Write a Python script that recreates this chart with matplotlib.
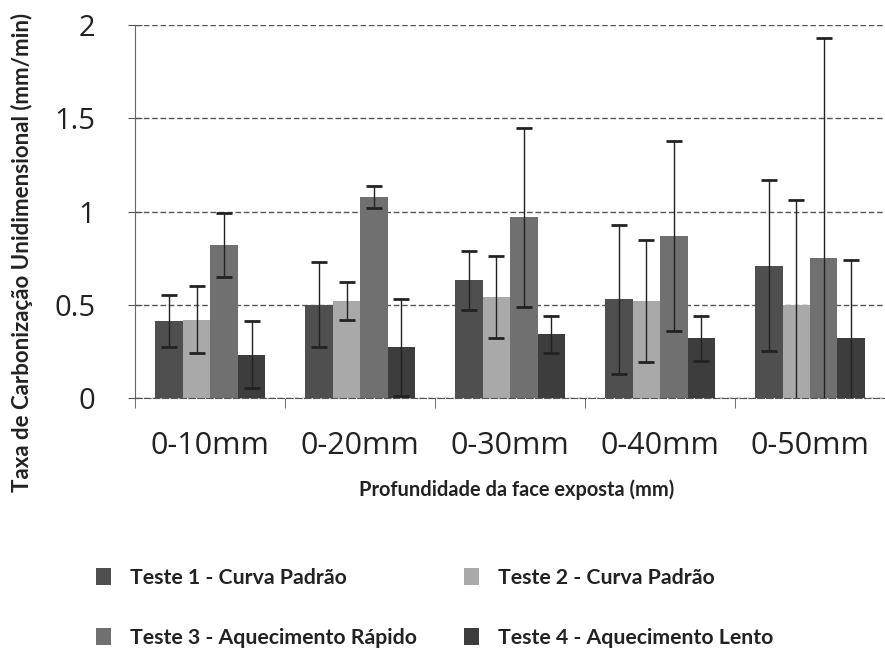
import numpy as np
import matplotlib.pyplot as plt
from matplotlib.ticker import FixedLocator

# values (mm/min)
categories = ['0-10mm', '0-20mm', '0-30mm', '0-40mm', '0-50mm']
series_names = ['Teste 1 - Curva Padrão', 'Teste 2 - Curva Padrão',
                'Teste 3 - Aquecimento Rápido', 'Teste 4 - Aquecimento Lento']
teste1 = [0.41, 0.50, 0.63, 0.53, 0.71]
teste1_err = [0.14, 0.23, 0.16, 0.40, 0.46]
teste2 = [0.42, 0.52, 0.54, 0.52, 0.50]
teste2_err = [0.18, 0.10, 0.22, 0.33, 0.56]
teste3 = [0.82, 1.08, 0.97, 0.87, 0.75]
teste3_err = [0.17, 0.06, 0.48, 0.51, 1.18]
teste4 = [0.23, 0.27, 0.34, 0.32, 0.32]
teste4_err = [0.18, 0.26, 0.10, 0.12, 0.42]

colors = ['#4f4f4f', '#a9a9a9', '#707070', '#3d3d3d']
font = ['Open Sans', 'DejaVu Sans']
label_font = ['Lato', 'DejaVu Sans']


def main():
    fig = plt.figure(figsize=(8.85, 6.51), dpi=100)
    ax = fig.add_axes([0.153, 0.389, 0.847, 0.572])

    x = np.arange(len(categories))
    width = 0.183
    values = [teste1, teste2, teste3, teste4]
    errors = [teste1_err, teste2_err, teste3_err, teste4_err]
    handles = []
    for i in range(4):
        pos = x + (i - 1.5) * width
        b = ax.bar(pos, values[i], width, color=colors[i], zorder=2,
                   yerr=errors[i], capsize=5.5,
                   error_kw={'ecolor': '#222222', 'elinewidth': 1.0,
                             'capthick': 2.0, 'zorder': 3})
        handles.append(b)

    ax.set_xlim(-0.5, len(categories) - 0.5)
    ax.set_ylim(0, 2.0)
    ax.set_yticks([0, 0.5, 1, 1.5, 2])
    ax.set_yticklabels(['0', '0.5', '1', '1.5', '2'], family=font, fontsize=21)
    ax.set_xticks(x)
    ax.set_xticklabels(categories, family=font, fontsize=22)
    # small tick marks between the groups, none under the labels
    ax.xaxis.set_minor_locator(FixedLocator(np.arange(-0.5, len(categories), 1)))
    ax.tick_params(axis='x', which='major', length=0, pad=24, colors='#222222')
    ax.tick_params(axis='x', which='minor', length=7, direction='out',
                   color='#555555')
    ax.tick_params(axis='y', length=10, direction='inout', pad=24,
                   color='#555555', labelcolor='#222222')

    ax.grid(axis='y', linestyle=(0, (4, 2)), color='#555555', linewidth=1.0,
            zorder=0)
    for side in ['top', 'right']:
        ax.spines[side].set_visible(False)
    ax.spines['left'].set_color('#666666')
    ax.spines['bottom'].set_color('#555555')
    ax.spines['bottom'].set_linestyle((0, (6, 2)))

    ax.set_ylabel('Taxa de Carbonização Unidimensional (mm/min)',
                  family=label_font, fontsize=16, fontweight='bold',
                  color='#222222')
    ax.yaxis.set_label_coords(-0.137, 0.389)
    fig.text(0.584, 1 - 490 / 651, 'Profundidade da face exposta (mm)',
             family=label_font, fontsize=14.4, fontweight='bold',
             color='#222222', ha='center', va='center')

    # legend fills column-wise, so reorder to get T1/T2 on the first row
    order = [0, 2, 1, 3]
    leg = fig.legend([handles[i] for i in order],
                     [series_names[i] for i in order],
                     ncol=2, loc='upper left', bbox_to_anchor=(0.087, 0.157),
                     frameon=False, handlelength=0.7, handleheight=0.85,
                     handletextpad=0.9, labelspacing=1.88, columnspacing=2.2,
                     prop={'family': label_font, 'size': 15.3,
                           'weight': 'bold'})
    for t in leg.get_texts():
        t.set_color('#222222')

    fig.savefig('out.png', dpi=100, facecolor='white')


if __name__ == '__main__':
    main()
